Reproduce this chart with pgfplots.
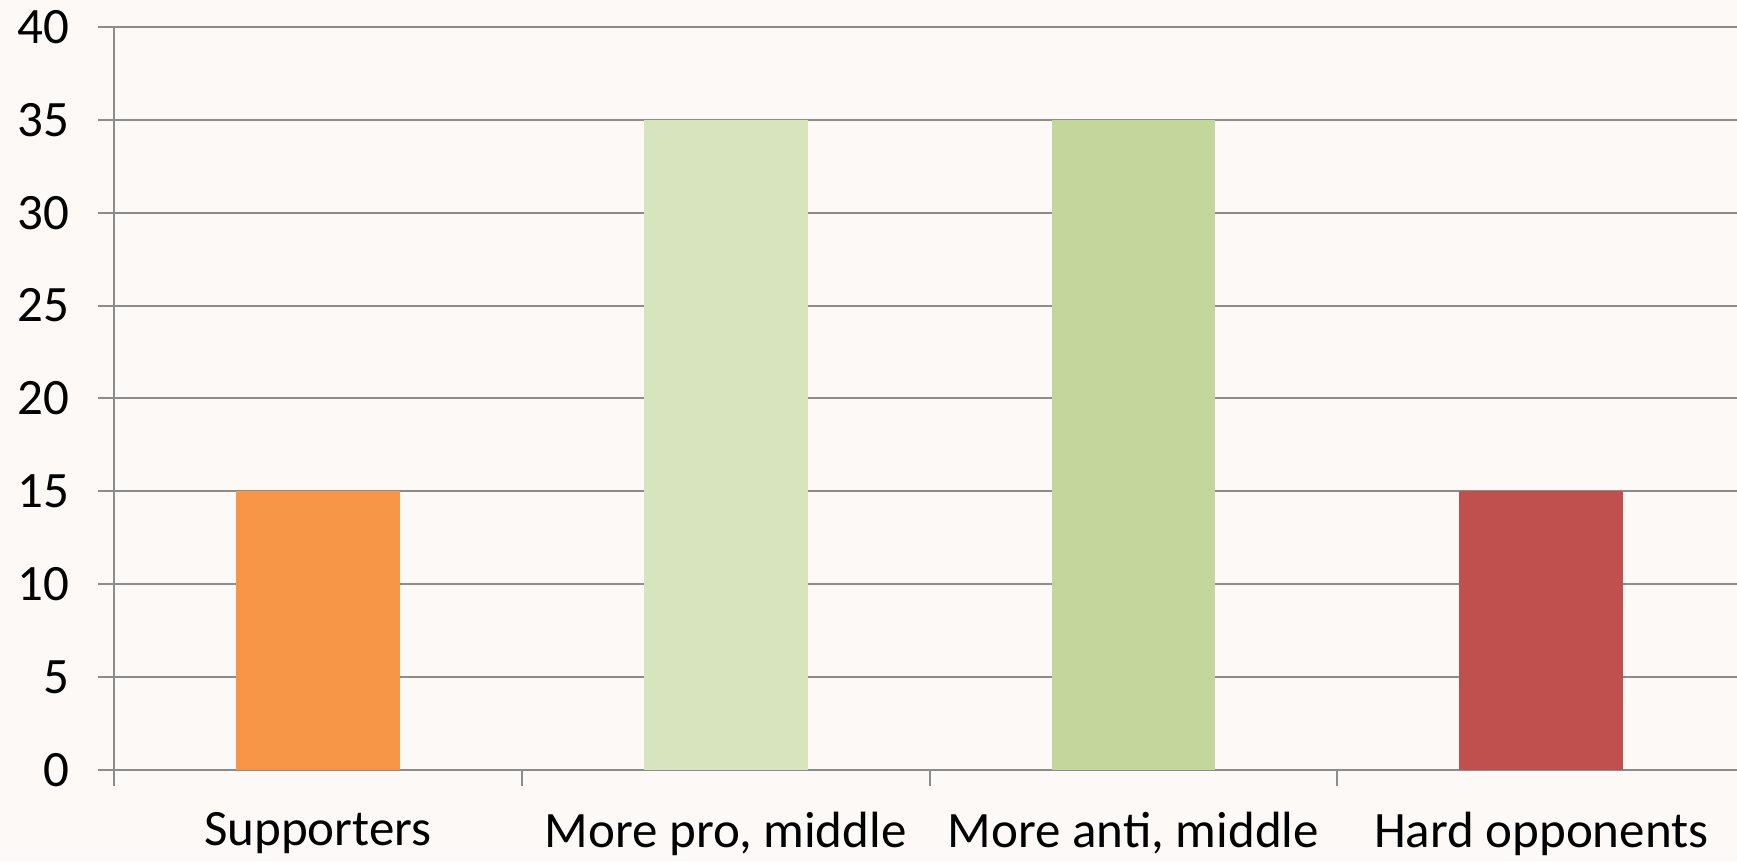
\documentclass[border=0pt]{standalone}
\usepackage{pgfplots}
\pgfplotsset{compat=1.18}
\usepackage{fontspec}
\setmainfont{Carlito}
\usetikzlibrary{calc,backgrounds}
\definecolor{bg}{RGB}{252,249,246}
\definecolor{gridc}{RGB}{140,140,140}
\definecolor{c1}{HTML}{F79646}
\definecolor{c2}{HTML}{D7E4BD}
\definecolor{c3}{HTML}{C3D69B}
\definecolor{c4}{HTML}{C0504D}
\begin{document}
\begin{tikzpicture}
\begin{axis}[
  scale only axis,
  width=811.5pt, height=371.5pt,
  xmin=0.5, xmax=4.48,
  ymin=0, ymax=40,
  ytick={0,5,...,40},
  xtick={0.5,1.5,2.5,3.5},
  xticklabels={},
  extra x ticks={1,2,3,4},
  extra x tick labels={Supporters,{More pro, middle},{More anti, middle},Hard opponents},
  extra x tick style={major tick length=0pt, grid=none},
  axis x line*=bottom, axis y line*=left,
  axis line style={gridc, line width=1pt, -},
  ymajorgrids,
  grid style={gridc, line width=1pt},
  major tick style={gridc, line width=1pt},
  tick align=outside,
  major tick length=8pt,
  /pgf/number format/assume math mode=true,
  tick label style={font=\fontsize{25.5}{30}\selectfont, text=black},
  yticklabel style={xshift=-11pt},
  xticklabel style={yshift=-17.5pt},
  ybar, bar shift=0pt, bar width=0.402,
]
\addplot[fill=c1, draw=none] coordinates {(1,15)};
\addplot[fill=c2, draw=none] coordinates {(2,35)};
\addplot[fill=c3, draw=none] coordinates {(3,35)};
\addplot[fill=c4, draw=none] coordinates {(4,15)};
\end{axis}
\begin{scope}[on background layer]
\fill[bg] ($(current axis.south west)+(-57pt,-45.5pt)$) rectangle ($(current axis.north east)+(0pt,13.5pt)$);
\end{scope}
\pgfresetboundingbox
\path[use as bounding box] ($(current axis.south west)+(-57pt,-45.5pt)$) rectangle ($(current axis.north east)+(0pt,13.5pt)$);
\end{tikzpicture}
\end{document}
